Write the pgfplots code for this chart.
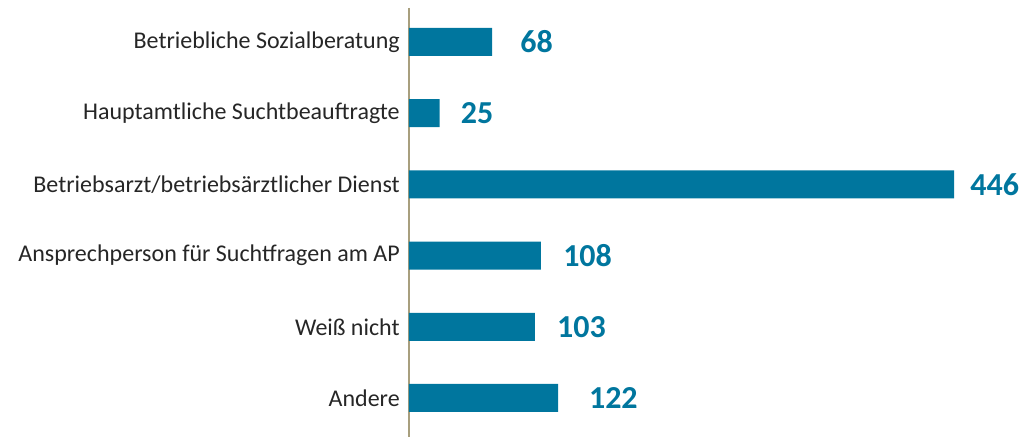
\documentclass[border=0pt]{standalone}
\usepackage{pgfplots}
\pgfplotsset{compat=1.18}
\usepackage{pgfplotstable}
\usepackage{fontspec}
\setmainfont{Carlito}
\definecolor{barblue}{HTML}{00769E}
\definecolor{axisgray}{HTML}{A89F7E}

% pos  value  label offset (pt)
\pgfplotstableread{
pos val off
0 68 21
1 25 15.75
2 446 12
3 108 16.5
4 103 16.5
5 122 23
}\datatable

\begin{document}
\begin{tikzpicture}
\begin{axis}[
    scale only axis,
    width=464.25pt, height=321.75pt,
    xbar, bar width=21pt,
    xmin=0, xmax=506.5,
    ymin=-0.4775, ymax=5.548,
    y dir=reverse,
    axis x line=none,
    axis y line*=left,
    y axis line style={draw=axisgray, line width=1.5pt, -},
    ytick={0,...,5},
    yticklabels={Betriebliche Sozialberatung, Hauptamtliche Suchtbeauftragte,
      Betriebsarzt/betriebsärztlicher Dienst, Ansprechperson für Suchtfragen am AP,
      Weiß nicht, Andere},
    ytick style={draw=none},
    yticklabel style={font=\fontsize{18}{21}\selectfont, inner sep=0pt, xshift=-2.5pt, text=black!85},
    clip=false,
    /pgf/number format/assume math mode=true,
    nodes near coords,
    point meta=explicit,
    visualization depends on={\thisrow{off} \as \off},
    every node near coord/.append style={font=\fontsize{24}{28}\selectfont\bfseries,
      text=barblue, anchor=west, inner sep=0pt, xshift=\off pt},
]
\addplot[fill=barblue, draw=none] table[x=val, y=pos, meta=val] {\datatable};
\coordinate (bl) at (axis cs:0,5.548);
\coordinate (tl) at (axis cs:0,-0.4775);
\end{axis}
\path (bl) ++(-306.75pt,0pt);
\path (bl) ++(464.25pt,0pt);
\path (tl) ++(0pt,6pt);
\end{tikzpicture}
\end{document}
